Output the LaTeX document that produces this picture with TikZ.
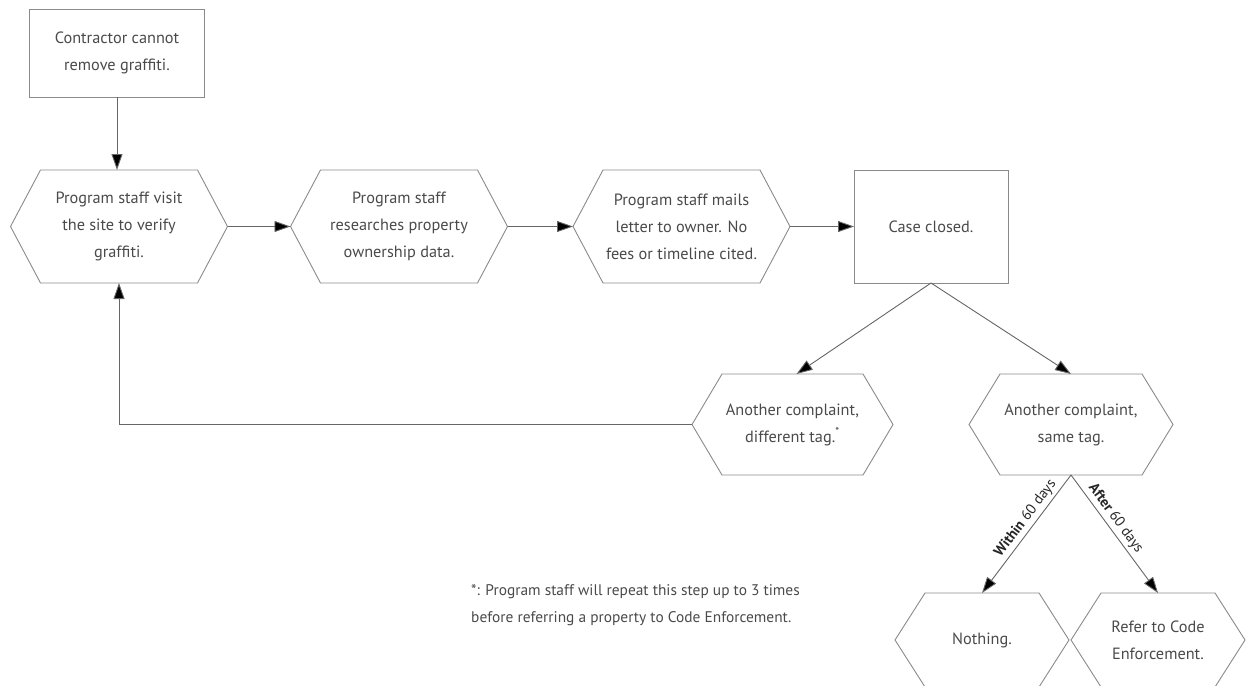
\documentclass[tikz,border=0pt]{standalone}
\usepackage{fontspec}
\setmainfont{PT Sans}
\usetikzlibrary{arrows.meta,calc}
\definecolor{txt}{HTML}{4A4A4A}
\definecolor{bord}{HTML}{8A8A8A}
\definecolor{conn}{HTML}{666666}
\newcommand\hexnode[5]{%
  \node[hextext,#3] (#1) at (#2) {#5};
  \draw[hexline] (#1.north west) -- (#1.north east) -- ([xshift=#4]#1.east) -- (#1.south east) -- (#1.south west) -- ([xshift=-#4]#1.west) -- cycle;
  \coordinate (#1-L) at ([xshift=-#4]#1.west);
  \coordinate (#1-R) at ([xshift=#4]#1.east);
}
\begin{document}
\begin{tikzpicture}[x=1pt,y=-1pt,
  hextext/.style={inner sep=0pt,outer sep=0pt,align=center,text=txt,
    font=\fontsize{16.3}{27}\selectfont},
  hexline/.style={draw=bord,line width=0.9pt,line join=miter},
  boxnode/.style={draw=bord,line width=0.9pt,inner sep=0pt,outer sep=0pt,align=center,text=txt,
    font=\fontsize{16.3}{27}\selectfont},
  arr/.style={draw=conn,line width=0.9pt,-{Triangle[length=16pt,width=11pt,fill=black]}},
  elabel/.style={font=\fontsize{14.5}{16}\selectfont,text=black!85,inner sep=3pt},
]
\useasboundingbox (0,0) rectangle (1246,685);
\clip (0,0) rectangle (1246,685);

% boxes
\node[boxnode,minimum width=175pt,minimum height=88pt] (c) at (117,53) {Contractor cannot\\remove graffiti.};
\node[boxnode,minimum width=154pt,minimum height=113pt] (case) at (931,226.5) {Case closed.};

% top row hexagons
\hexnode{h1}{119,226.5}{minimum width=157pt,minimum height=113pt}{30pt}{Program staff visit\\the site to verify\\graffiti.}
\hexnode{h2}{399,226.5}{minimum width=157pt,minimum height=113pt}{30pt}{Program staff\\researches property\\ownership data.}
\hexnode{h3}{681.5,226.5}{minimum width=157pt,minimum height=113pt}{30pt}{Program staff mails\\letter to owner. No\\fees or timeline cited.}

% middle row
\hexnode{dt}{792.5,424.5}{minimum width=141pt,minimum height=101pt}{30pt}{Another complaint,\\different tag.\textsuperscript{*}}
\hexnode{st}{1071,424.5}{minimum width=142pt,minimum height=101pt}{31pt}{Another complaint,\\same tag.}

% bottom row
\hexnode{no}{982,640}{minimum width=114pt,minimum height=94pt}{30pt}{Nothing.}
\hexnode{rf}{1158,640}{minimum width=114pt,minimum height=94pt}{30pt}{Refer to Code\\Enforcement.}

% footnote
\node[anchor=west,align=left,text=txt,inner sep=0pt,font=\fontsize{15.4}{27}\selectfont] (fn) at (471,605.5)
  {*: Program staff will repeat this step up to 3 times\\before referring a property to Code Enforcement.};

% connectors
\draw[arr] (c.south) -- (c.south |- h1.north);
\draw[arr] (h1-R) -- (h2-L);
\draw[arr] (h2-R) -- (h3-L);
\draw[arr] (h3-R) -- (case.west);
\draw[arr] (case.south) -- ([xshift=4pt]dt.north);
\draw[arr] (case.south) -- (st.north);
\draw[arr] (dt-L) -| (h1.south);
\draw[arr] (st.south) -- node[elabel,sloped,above,pos=0.42] {\textbf{Within}\ 60 days} (no.north);
\draw[arr] (st.south) -- node[elabel,sloped,above,pos=0.42] {\textbf{After}\ 60 days} (rf.north);
\end{tikzpicture}
\end{document}
